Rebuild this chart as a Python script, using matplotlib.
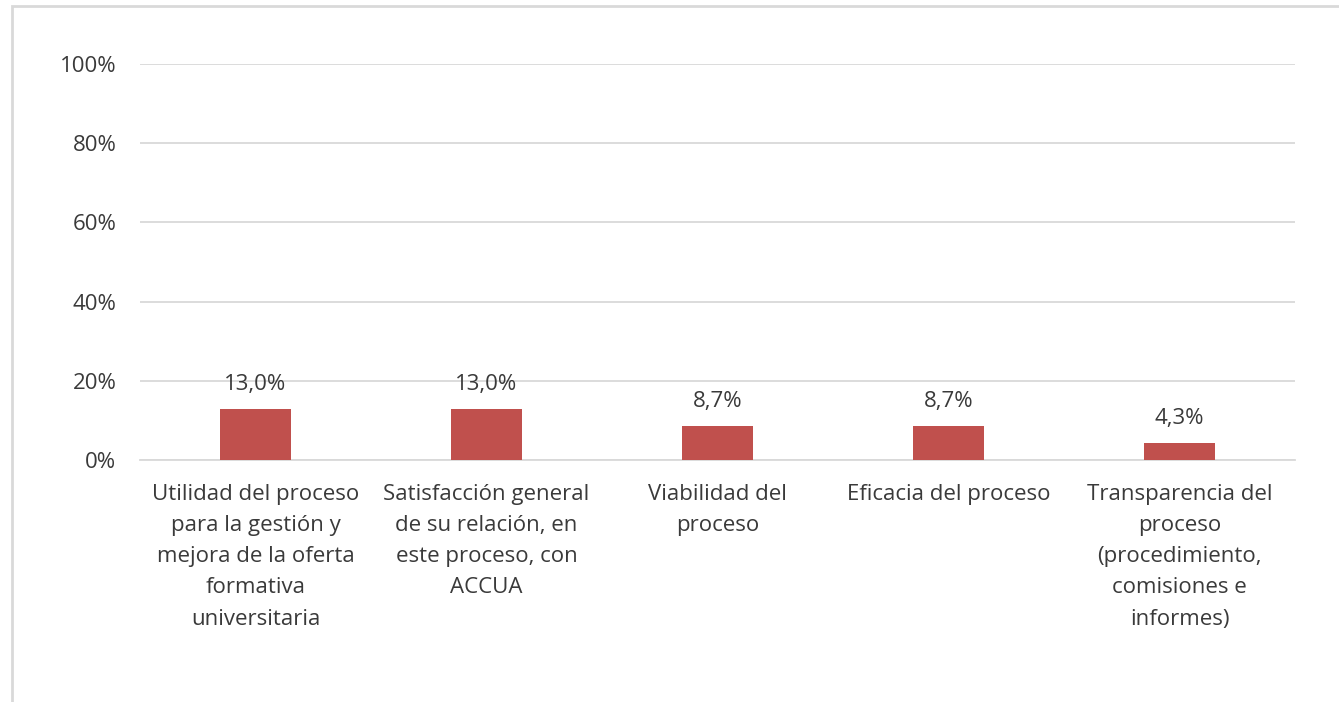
import matplotlib
matplotlib.use("Agg")
import matplotlib.pyplot as plt
from matplotlib.patches import Rectangle
from matplotlib.ticker import FuncFormatter

plt.rcParams["font.family"] = ["Open Sans", "DejaVu Sans"]

# Valoraciones por aspecto del proceso
categorias = [
    "Utilidad del proceso\npara la gestión y\nmejora de la oferta\nformativa\nuniversitaria",
    "Satisfacción general\nde su relación, en\neste proceso, con\nACCUA",
    "Viabilidad del\nproceso",
    "Eficacia del proceso",
    "Transparencia del\nproceso\n(procedimiento,\ncomisiones e\ninformes)",
]
valores = [0.130, 0.130, 0.087, 0.087, 0.043]
etiquetas = ["13,0%", "13,0%", "8,7%", "8,7%", "4,3%"]
y_ticks = [0, 0.2, 0.4, 0.6, 0.8, 1.0]

W, H = 1339, 702
fig = plt.figure(figsize=(W / 100, H / 100), dpi=100)
fig.patch.set_facecolor("white")

# marco gris del área del gráfico
fig.patches.append(Rectangle((12 / W, -0.1), 1.2, 1 - 6 / H + 0.1,
                             transform=fig.transFigure, fill=False,
                             edgecolor="#D9D9D9", linewidth=2))

ax = fig.add_axes([140 / W, 1 - 460 / H, (1295 - 140) / W, (460 - 64) / H])
x = range(len(categorias))
ax.bar(x, valores, width=0.31, color="#C0504D", zorder=3)

for xi, v, t in zip(x, valores, etiquetas):
    ax.annotate(t, (xi, v), xytext=(0, 17.5), textcoords="offset points",
                ha="center", va="center", fontsize=16, color="#3a3a3a")

ax.set_xlim(-0.5, len(categorias) - 0.5)
ax.set_ylim(0, 1)
ax.set_yticks(y_ticks)
ax.yaxis.set_major_formatter(FuncFormatter(lambda v, p: f"{v * 100:.0f}%"))
ax.grid(axis="y", color="#D9D9D9", linewidth=1.3, zorder=0)
ax.set_xticks(list(x))
ax.set_xticklabels(categorias, fontsize=16, color="#3a3a3a", linespacing=1.64)
ax.tick_params(axis="both", length=0, colors="#3a3a3a", labelsize=16)
ax.tick_params(axis="y", pad=17)
ax.tick_params(axis="x", pad=17)
for s in ["top", "right", "left"]:
    ax.spines[s].set_visible(False)
ax.spines["bottom"].set_color("#D9D9D9")
ax.spines["bottom"].set_linewidth(1.3)

fig.savefig("out.png", dpi=100)
